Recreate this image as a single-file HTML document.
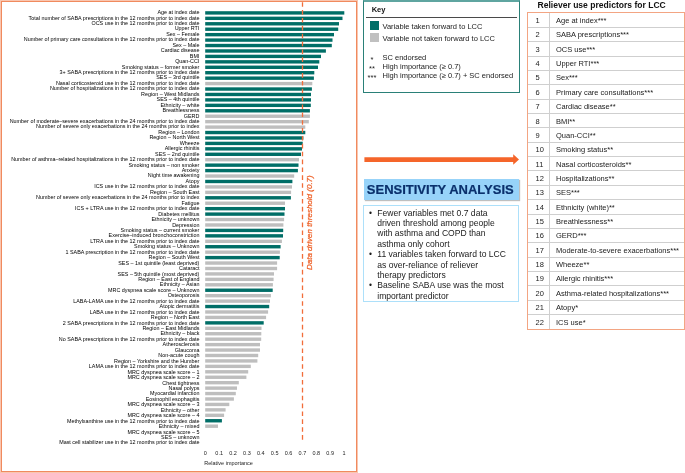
<!DOCTYPE html>
<html><head><meta charset="utf-8">
<style>
*{margin:0;padding:0;box-sizing:border-box}
html,body{width:685px;height:473px;overflow:hidden;background:#fff}
body{position:relative;font-family:"Liberation Sans",sans-serif;color:#1a1a1a}
.abs{position:absolute}
.lb{position:absolute;right:485.6px;white-space:nowrap;font-size:5.4px;line-height:5.438px;height:5.438px;color:#000;}
.tk{position:absolute;top:450px;width:20px;text-align:center;font-size:5.5px;line-height:6px;color:#222}
.tn{position:absolute;left:535.6px;font-size:7.5px;line-height:14.36px;height:14.36px;color:#222}
.tt{position:absolute;left:556px;white-space:nowrap;font-size:7.5px;line-height:14.36px;height:14.36px;color:#222}
.hl{position:absolute;left:527.6px;width:156.60000000000002px;height:1px;background:#cfcfcf}
.kt{position:absolute;left:382.5px;white-space:nowrap;font-size:7.5px;line-height:9px;color:#222}
.ka{position:absolute;left:364px;width:16px;text-align:center;font-size:7.5px;line-height:9px;color:#222}
.bl{position:absolute;left:377.3px;white-space:nowrap;font-size:8.55px;line-height:10.34px;color:#1a1a1a}
.bd{position:absolute;left:369px;font-size:8.55px;line-height:10.34px;color:#1a1a1a}
#w{position:absolute;left:0;top:0;width:685px;height:473px;will-change:transform;background:#fff}
</style></head><body><div id="w">
<!-- left panel -->
<div class="abs" style="left:0;top:0;width:358px;height:473px;border:1px solid #f9c6b0"></div>
<div class="abs" style="left:1px;top:1px;width:356px;height:471px;border:1px solid #f08a5e"></div>
<div class="lb" style="top:10.05px">Age at index date</div><div class="lb" style="top:15.50px">Total number of SABA prescriptions in the 12 months prior to index date</div><div class="lb" style="top:20.95px">OCS use in the 12 months prior to index date</div><div class="lb" style="top:26.39px">Upper RTI</div><div class="lb" style="top:31.84px">Sex – Female</div><div class="lb" style="top:37.29px">Number of primary care consultations in the 12 months prior to index date</div><div class="lb" style="top:42.74px">Sex – Male</div><div class="lb" style="top:48.19px">Cardiac disease</div><div class="lb" style="top:53.63px">BMI</div><div class="lb" style="top:59.08px">Quan-CCI</div><div class="lb" style="top:64.53px">Smoking status – former smoker</div><div class="lb" style="top:69.98px">3+ SABA prescriptions in the 12 months prior to index date</div><div class="lb" style="top:75.43px">SES – 3rd quintile</div><div class="lb" style="top:80.87px">Nasal corticosteroid use in the 12 months prior to index date</div><div class="lb" style="top:86.32px">Number of hospitalizations in the 12 months prior to index date</div><div class="lb" style="top:91.77px">Region – West Midlands</div><div class="lb" style="top:97.22px">SES – 4th quintile</div><div class="lb" style="top:102.67px">Ethnicity – white</div><div class="lb" style="top:108.11px">Breathlessness</div><div class="lb" style="top:113.56px">GERD</div><div class="lb" style="top:119.01px">Number of moderate–severe exacerbations in the 24 months prior to index date</div><div class="lb" style="top:124.46px">Number of severe only exacerbations in the 24 months prior to index</div><div class="lb" style="top:129.91px">Region – London</div><div class="lb" style="top:135.35px">Region – North West</div><div class="lb" style="top:140.80px">Wheeze</div><div class="lb" style="top:146.25px">Allergic rhinitis</div><div class="lb" style="top:151.70px">SES – 2nd quintile</div><div class="lb" style="top:157.15px">Number of asthma–related hospitalizations in the 12 months prior to index date</div><div class="lb" style="top:162.59px">Smoking status – non smoker</div><div class="lb" style="top:168.04px">Anxiety</div><div class="lb" style="top:173.49px">Night time awakening</div><div class="lb" style="top:178.94px">Atopy</div><div class="lb" style="top:184.39px">ICS use in the 12 months prior to index date</div><div class="lb" style="top:189.83px">Region – South East</div><div class="lb" style="top:195.28px">Number of severe only exacerbations in the 24 months prior to index</div><div class="lb" style="top:200.73px">Fatigue</div><div class="lb" style="top:206.18px">ICS + LTRA use in the 12 months prior to index date</div><div class="lb" style="top:211.63px">Diabetes mellitus</div><div class="lb" style="top:217.07px">Ethnicity – unknown</div><div class="lb" style="top:222.52px">Depression</div><div class="lb" style="top:227.97px">Smoking status – current smoker</div><div class="lb" style="top:233.42px">Exercise–induced bronchoconstriction</div><div class="lb" style="top:238.87px">LTRA use in the 12 months prior to index date</div><div class="lb" style="top:244.31px">Smoking status – Unknown</div><div class="lb" style="top:249.76px">1 SABA prescription in the 12 months prior to index date</div><div class="lb" style="top:255.21px">Region – South West</div><div class="lb" style="top:260.66px">SES – 1st quintile (least deprived)</div><div class="lb" style="top:266.11px">Cataract</div><div class="lb" style="top:271.55px">SES – 5th quintile (most deprived)</div><div class="lb" style="top:277.00px">Region – East of England</div><div class="lb" style="top:282.45px">Ethnicity – Asian</div><div class="lb" style="top:287.90px">MRC dyspnea scale score – Unknown</div><div class="lb" style="top:293.35px">Osteoporosis</div><div class="lb" style="top:298.79px">LABA-LAMA use in the 12 months prior to index date</div><div class="lb" style="top:304.24px">Atopic dermatitis</div><div class="lb" style="top:309.69px">LABA use in the 12 months prior to index date</div><div class="lb" style="top:315.14px">Region – North East</div><div class="lb" style="top:320.59px">2 SABA prescriptions in the 12 months prior to index date</div><div class="lb" style="top:326.03px">Region – East Midlands</div><div class="lb" style="top:331.48px">Ethnicity – black</div><div class="lb" style="top:336.93px">No SABA prescriptions in the 12 months prior to index date</div><div class="lb" style="top:342.38px">Atherosclerosis</div><div class="lb" style="top:347.83px">Glaucoma</div><div class="lb" style="top:353.27px">Non-acute cough</div><div class="lb" style="top:358.72px">Region – Yorkshire and the Humber</div><div class="lb" style="top:364.17px">LAMA use in the 12 months prior to index date</div><div class="lb" style="top:369.62px">MRC dyspnea scale score – 1</div><div class="lb" style="top:375.07px">MRC dyspnea scale score – 2</div><div class="lb" style="top:380.51px">Chest tightness</div><div class="lb" style="top:385.96px">Nasal polyps</div><div class="lb" style="top:391.41px">Myocardial infarction</div><div class="lb" style="top:396.86px">Eosinophil esophagitis</div><div class="lb" style="top:402.31px">MRC dyspnea scale score – 3</div><div class="lb" style="top:407.75px">Ethnicity – other</div><div class="lb" style="top:413.20px">MRC dyspnea scale score – 4</div><div class="lb" style="top:418.65px">Methylxanthine use in the 12 months prior to index date</div><div class="lb" style="top:424.10px">Ethnicity – mixed</div><div class="lb" style="top:429.55px">MRC dyspnea scale score – 5</div><div class="lb" style="top:434.99px">SES – unknown</div><div class="lb" style="top:440.44px">Mast cell stabilizer use in the 12 months prior to index date</div>
<svg class="abs" style="left:0;top:0" width="360" height="473" viewBox="0 0 360 473">
<rect x="205.2" y="11.20" width="139.10" height="3.4" fill="#006e67"/><rect x="205.2" y="16.64" width="137.30" height="3.4" fill="#006e67"/><rect x="205.2" y="22.08" width="133.80" height="3.4" fill="#006e67"/><rect x="205.2" y="27.51" width="133.00" height="3.4" fill="#006e67"/><rect x="205.2" y="32.95" width="128.80" height="3.4" fill="#006e67"/><rect x="205.2" y="38.39" width="127.30" height="3.4" fill="#006e67"/><rect x="205.2" y="43.83" width="126.60" height="3.4" fill="#006e67"/><rect x="205.2" y="49.27" width="120.70" height="3.4" fill="#006e67"/><rect x="205.2" y="54.70" width="115.80" height="3.4" fill="#006e67"/><rect x="205.2" y="60.14" width="114.10" height="3.4" fill="#006e67"/><rect x="205.2" y="65.58" width="112.80" height="3.4" fill="#006e67"/><rect x="205.2" y="71.02" width="109.10" height="3.4" fill="#006e67"/><rect x="205.2" y="76.46" width="108.70" height="3.4" fill="#006e67"/><rect x="205.2" y="81.89" width="107.10" height="3.4" fill="#bebebe"/><rect x="205.2" y="87.33" width="106.70" height="3.4" fill="#006e67"/><rect x="205.2" y="92.77" width="105.80" height="3.4" fill="#006e67"/><rect x="205.2" y="98.21" width="105.80" height="3.4" fill="#006e67"/><rect x="205.2" y="103.65" width="105.60" height="3.4" fill="#006e67"/><rect x="205.2" y="109.08" width="104.70" height="3.4" fill="#006e67"/><rect x="205.2" y="114.52" width="104.70" height="3.4" fill="#bebebe"/><rect x="205.2" y="119.96" width="103.60" height="3.4" fill="#bebebe"/><rect x="205.2" y="125.40" width="100.10" height="3.4" fill="#bebebe"/><rect x="205.2" y="130.84" width="100.10" height="3.4" fill="#006e67"/><rect x="205.2" y="136.27" width="98.20" height="3.4" fill="#006e67"/><rect x="205.2" y="141.71" width="97.50" height="3.4" fill="#006e67"/><rect x="205.2" y="147.15" width="96.80" height="3.4" fill="#006e67"/><rect x="205.2" y="152.59" width="95.80" height="3.4" fill="#006e67"/><rect x="205.2" y="158.03" width="93.80" height="3.4" fill="#bebebe"/><rect x="205.2" y="163.46" width="93.30" height="3.4" fill="#006e67"/><rect x="205.2" y="168.90" width="92.70" height="3.4" fill="#006e67"/><rect x="205.2" y="174.34" width="89.00" height="3.4" fill="#bebebe"/><rect x="205.2" y="179.78" width="87.20" height="3.4" fill="#006e67"/><rect x="205.2" y="185.22" width="86.80" height="3.4" fill="#bebebe"/><rect x="205.2" y="190.65" width="85.90" height="3.4" fill="#bebebe"/><rect x="205.2" y="196.09" width="85.70" height="3.4" fill="#006e67"/><rect x="205.2" y="201.53" width="79.80" height="3.4" fill="#bebebe"/><rect x="205.2" y="206.97" width="79.80" height="3.4" fill="#006e67"/><rect x="205.2" y="212.41" width="79.30" height="3.4" fill="#006e67"/><rect x="205.2" y="217.84" width="78.90" height="3.4" fill="#bebebe"/><rect x="205.2" y="223.28" width="78.20" height="3.4" fill="#bebebe"/><rect x="205.2" y="228.72" width="78.00" height="3.4" fill="#006e67"/><rect x="205.2" y="234.16" width="77.80" height="3.4" fill="#006e67"/><rect x="205.2" y="239.60" width="76.70" height="3.4" fill="#bebebe"/><rect x="205.2" y="245.03" width="75.40" height="3.4" fill="#006e67"/><rect x="205.2" y="250.47" width="74.70" height="3.4" fill="#bebebe"/><rect x="205.2" y="255.91" width="74.50" height="3.4" fill="#006e67"/><rect x="205.2" y="261.35" width="71.90" height="3.4" fill="#bebebe"/><rect x="205.2" y="266.79" width="71.90" height="3.4" fill="#bebebe"/><rect x="205.2" y="272.22" width="68.80" height="3.4" fill="#bebebe"/><rect x="205.2" y="277.66" width="68.40" height="3.4" fill="#bebebe"/><rect x="205.2" y="283.10" width="67.70" height="3.4" fill="#bebebe"/><rect x="205.2" y="288.54" width="67.50" height="3.4" fill="#006e67"/><rect x="205.2" y="293.98" width="65.70" height="3.4" fill="#bebebe"/><rect x="205.2" y="299.41" width="64.80" height="3.4" fill="#bebebe"/><rect x="205.2" y="304.85" width="64.00" height="3.4" fill="#006e67"/><rect x="205.2" y="310.29" width="62.90" height="3.4" fill="#bebebe"/><rect x="205.2" y="315.73" width="60.90" height="3.4" fill="#bebebe"/><rect x="205.2" y="321.17" width="58.50" height="3.4" fill="#006e67"/><rect x="205.2" y="326.60" width="56.30" height="3.4" fill="#bebebe"/><rect x="205.2" y="332.04" width="56.10" height="3.4" fill="#bebebe"/><rect x="205.2" y="337.48" width="56.00" height="3.4" fill="#bebebe"/><rect x="205.2" y="342.92" width="54.80" height="3.4" fill="#bebebe"/><rect x="205.2" y="348.36" width="54.80" height="3.4" fill="#bebebe"/><rect x="205.2" y="353.79" width="53.00" height="3.4" fill="#bebebe"/><rect x="205.2" y="359.23" width="52.20" height="3.4" fill="#bebebe"/><rect x="205.2" y="364.67" width="45.60" height="3.4" fill="#bebebe"/><rect x="205.2" y="370.11" width="43.00" height="3.4" fill="#bebebe"/><rect x="205.2" y="375.55" width="41.20" height="3.4" fill="#bebebe"/><rect x="205.2" y="380.98" width="33.60" height="3.4" fill="#bebebe"/><rect x="205.2" y="386.42" width="31.80" height="3.4" fill="#bebebe"/><rect x="205.2" y="391.86" width="30.60" height="3.4" fill="#bebebe"/><rect x="205.2" y="397.30" width="28.70" height="3.4" fill="#bebebe"/><rect x="205.2" y="402.74" width="24.10" height="3.4" fill="#bebebe"/><rect x="205.2" y="408.17" width="20.40" height="3.4" fill="#bebebe"/><rect x="205.2" y="413.61" width="18.90" height="3.4" fill="#bebebe"/><rect x="205.2" y="419.05" width="16.70" height="3.4" fill="#006e67"/><rect x="205.2" y="424.49" width="12.80" height="3.4" fill="#bebebe"/>
<line x1="302.5" y1="2.2" x2="302.5" y2="439.7" stroke="#f26d3a" stroke-width="1.3" stroke-dasharray="4.6 3.27"/>
</svg>
<div class="abs" style="left:305.5px;top:270px;transform-origin:0 0;transform:rotate(-90deg);white-space:nowrap;font-size:8px;font-style:italic;line-height:8px;color:#ee6128;-webkit-text-stroke:0.25px #ee6128">Data driven threshold (0.7)</div>
<div class="tk" style="left:195.30px">0</div><div class="tk" style="left:209.17px">0.1</div><div class="tk" style="left:223.04px">0.2</div><div class="tk" style="left:236.91px">0.3</div><div class="tk" style="left:250.78px">0.4</div><div class="tk" style="left:264.65px">0.5</div><div class="tk" style="left:278.52px">0.6</div><div class="tk" style="left:292.39px">0.7</div><div class="tk" style="left:306.26px">0.8</div><div class="tk" style="left:320.13px">0.9</div><div class="tk" style="left:334.00px">1</div>
<div class="abs" style="left:204.3px;top:460px;font-size:5.5px;line-height:6px;white-space:nowrap;color:#222">Relative importance</div>

<!-- key -->
<div class="abs" style="left:363px;top:0px;width:156.5px;height:92.5px;border:1px solid #2a8078;border-top:2px solid #5fa5a0"></div>
<div class="abs" style="left:371.7px;top:4.5px;font-size:7.5px;font-weight:bold;line-height:10px;color:#111">Key</div>
<div class="abs" style="left:366px;top:16.5px;width:150.8px;height:1.1px;background:#4a4a4a"></div>
<div class="abs" style="left:370px;top:21.3px;width:9px;height:8.5px;background:#006e67"></div>
<div class="abs" style="left:370px;top:33.1px;width:9px;height:8.5px;background:#c0c0c0"></div>
<div class="kt" style="top:22px">Variable taken forward to LCC</div>
<div class="kt" style="top:34px">Variable not taken forward to LCC</div>
<div class="kt" style="top:53.0px">SC endorsed</div>
<div class="kt" style="top:62.0px">High importance (≥ 0.7)</div>
<div class="kt" style="top:71.0px">High importance (≥ 0.7) + SC endorsed</div>
<div class="ka" style="top:54.5px">*</div>
<div class="ka" style="top:63.5px">**</div>
<div class="ka" style="top:72.5px">***</div>

<!-- arrow -->
<svg class="abs" style="left:360px;top:150px" width="165" height="20" viewBox="360 150 165 20">
<polygon points="364.4,157.2 513.2,157.2 513.2,154.2 519,159.6 513.2,164.8 513.2,162.1 364.4,162.1" fill="#f5652a"/>
</svg>

<!-- sensitivity -->
<div class="abs" style="left:364px;top:179.2px;width:154.8px;height:21.2px;background:#97d3f9;box-shadow:1px 1px 1px rgba(0,0,0,0.25)"></div>
<div class="abs" style="left:366.8px;top:182.5px;font-size:13px;font-weight:bold;line-height:14px;white-space:nowrap;color:#0a306c;-webkit-text-stroke:0.2px #0a306c">SENSITIVITY ANALYSIS</div>
<div class="abs" style="left:363px;top:204.6px;width:156.2px;height:97.4px;border:1.8px solid #ade0fa"></div>
<div class="bd" style="top:207.8px">•</div>
<div class="bl" style="top:207.8px">Fewer variables met 0.7 data<br>driven threshold among people<br>with asthma and COPD than<br>asthma only cohort</div>
<div class="bd" style="top:249.16000000000003px">•</div>
<div class="bl" style="top:249.16000000000003px">11 variables taken forward to LCC<br>as over-reliance of reliever<br>therapy predictors</div>
<div class="bd" style="top:280.18px">•</div>
<div class="bl" style="top:280.18px">Baseline SABA use was the most<br>important predictor</div>

<!-- table -->
<div class="abs" style="left:537.5px;top:0px;font-size:8.55px;font-weight:bold;line-height:10px;white-space:nowrap;color:#111">Reliever use predictors for LCC</div>
<div class="tn" style="top:14.00px">1</div><div class="tt" style="top:14.00px">Age at index***</div><div class="tn" style="top:28.36px">2</div><div class="tt" style="top:28.36px">SABA prescriptions***</div><div class="hl" style="top:26.86px"></div><div class="tn" style="top:42.72px">3</div><div class="tt" style="top:42.72px">OCS use***</div><div class="hl" style="top:41.22px"></div><div class="tn" style="top:57.08px">4</div><div class="tt" style="top:57.08px">Upper RTI***</div><div class="hl" style="top:55.58px"></div><div class="tn" style="top:71.44px">5</div><div class="tt" style="top:71.44px">Sex***</div><div class="hl" style="top:69.94px"></div><div class="tn" style="top:85.80px">6</div><div class="tt" style="top:85.80px">Primary care consultations***</div><div class="hl" style="top:84.30px"></div><div class="tn" style="top:100.16px">7</div><div class="tt" style="top:100.16px">Cardiac disease**</div><div class="hl" style="top:98.66px"></div><div class="tn" style="top:114.52px">8</div><div class="tt" style="top:114.52px">BMI**</div><div class="hl" style="top:113.02px"></div><div class="tn" style="top:128.88px">9</div><div class="tt" style="top:128.88px">Quan-CCI**</div><div class="hl" style="top:127.38px"></div><div class="tn" style="top:143.24px">10</div><div class="tt" style="top:143.24px">Smoking status**</div><div class="hl" style="top:141.74px"></div><div class="tn" style="top:157.60px">11</div><div class="tt" style="top:157.60px">Nasal corticosteroids**</div><div class="hl" style="top:156.10px"></div><div class="tn" style="top:171.96px">12</div><div class="tt" style="top:171.96px">Hospitalizations**</div><div class="hl" style="top:170.46px"></div><div class="tn" style="top:186.32px">13</div><div class="tt" style="top:186.32px">SES***</div><div class="hl" style="top:184.82px"></div><div class="tn" style="top:200.68px">14</div><div class="tt" style="top:200.68px">Ethnicity (white)**</div><div class="hl" style="top:199.18px"></div><div class="tn" style="top:215.04px">15</div><div class="tt" style="top:215.04px">Breathlessness**</div><div class="hl" style="top:213.54px"></div><div class="tn" style="top:229.40px">16</div><div class="tt" style="top:229.40px">GERD***</div><div class="hl" style="top:227.90px"></div><div class="tn" style="top:243.76px">17</div><div class="tt" style="top:243.76px">Moderate-to-severe exacerbations***</div><div class="hl" style="top:242.26px"></div><div class="tn" style="top:258.12px">18</div><div class="tt" style="top:258.12px">Wheeze**</div><div class="hl" style="top:256.62px"></div><div class="tn" style="top:272.48px">19</div><div class="tt" style="top:272.48px">Allergic rhinitis***</div><div class="hl" style="top:270.98px"></div><div class="tn" style="top:286.84px">20</div><div class="tt" style="top:286.84px">Asthma-related hospitalizations***</div><div class="hl" style="top:285.34px"></div><div class="tn" style="top:301.20px">21</div><div class="tt" style="top:301.20px">Atopy*</div><div class="hl" style="top:299.70px"></div><div class="tn" style="top:315.56px">22</div><div class="tt" style="top:315.56px">ICS use*</div><div class="hl" style="top:314.06px"></div>
<div class="abs" style="left:549.3px;top:13px;width:1px;height:315.91999999999996px;background:#cfcfcf"></div>
<div class="abs" style="left:526.6px;top:12px;width:158.60000000000002px;height:317.91999999999996px;border:1.5px solid #f3a583"></div>
</div></body></html>
